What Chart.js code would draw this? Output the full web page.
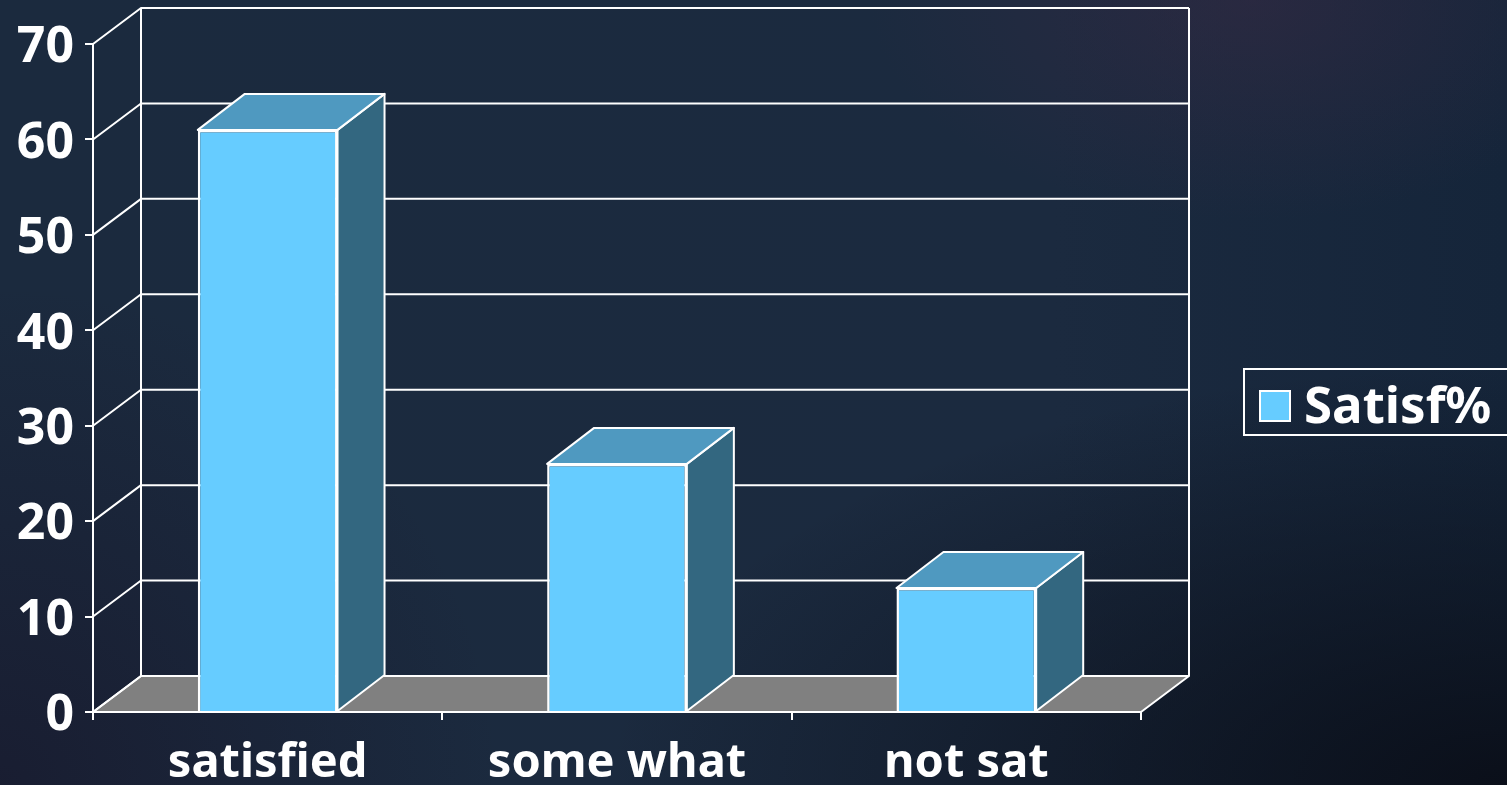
<!DOCTYPE html>
<html>
<head>
<meta charset="utf-8">
<title>Satisfaction</title>
<script src="https://cdn.jsdelivr.net/npm/chart.js@4"></script>
<style>
    html, body { margin: 0; width: 100%; height: 100%; overflow: hidden; }
    body {
        background:
            radial-gradient(ellipse 380px 220px at 1250px 0px, rgba(58,42,68,0.5), rgba(58,42,68,0)),
            radial-gradient(ellipse 900px 420px at 1507px 785px, rgba(10,14,24,0.95), rgba(10,14,24,0)),
            radial-gradient(ellipse 500px 500px at 0px 785px, rgba(24,24,44,0.7), rgba(24,24,44,0)),
            linear-gradient(90deg, #1b2a3e 0%, #1b2a3f 70%, #15253a 100%);
    }
    #wrap { position: absolute; left: 0; top: 0; width: 1507px; height: 785px; }
</style>
</head>
<body>
<div id="wrap"><canvas id="satisfChart" width="1507" height="785"></canvas></div>
<script>
const categories = ["satisfied", "some what", "not sat"];
const satisfValues = [61, 26, 13];
const seriesName = "Satisf%";
const yMax = 70;
const yStep = 10;

const FAMILY = "Noto Sans";
const WHITE = "#ffffff";
// 3d offset of the back wall, bars are a bit shallower
const DX = 48;
const BAR_DX = 47;
const DY = -36;

function poly(ctx, pts, fill) {
    ctx.beginPath();
    ctx.moveTo(pts[0][0], pts[0][1]);
    for (let i = 1; i < pts.length; i++) ctx.lineTo(pts[i][0], pts[i][1]);
    ctx.closePath();
    if (fill) {
        ctx.fillStyle = fill;
        ctx.fill();
    }
    ctx.stroke();
}

// floor, back wall, gridlines and the sides of the bars
const box3d = {
    id: "box3d",
    beforeDatasetsDraw(chart) {
        const ctx = chart.ctx;
        const a = chart.chartArea;
        const y = chart.scales.y;
        ctx.save();
        ctx.strokeStyle = WHITE;
        ctx.lineWidth = 2;
        ctx.lineJoin = "round";

        poly(ctx, [[a.left, a.bottom], [a.left + DX, a.bottom + DY], [a.right + DX, a.bottom + DY], [a.right, a.bottom]], "#808080");

        y.ticks.forEach((t) => {
            const py = y.getPixelForValue(t.value);
            ctx.beginPath();
            ctx.moveTo(a.left, py);
            ctx.lineTo(a.left + DX, py + DY);
            ctx.lineTo(a.right + DX, py + DY);
            ctx.stroke();
        });
        ctx.beginPath();
        ctx.moveTo(a.left + DX, a.top + DY);
        ctx.lineTo(a.left + DX, a.bottom + DY);
        ctx.moveTo(a.right + DX, a.top + DY);
        ctx.lineTo(a.right + DX, a.bottom + DY);
        ctx.stroke();

        chart.getDatasetMeta(0).data.forEach((bar) => {
            const p = bar.getProps(["x", "y", "base", "width"], true);
            const l = p.x - p.width / 2;
            const r = p.x + p.width / 2;
            poly(ctx, [[r, p.y], [r + BAR_DX, p.y + DY], [r + BAR_DX, p.base + DY], [r, p.base]], "#336780");
            poly(ctx, [[l, p.y], [l + BAR_DX, p.y + DY], [r + BAR_DX, p.y + DY], [r, p.y]], "#4f99c0");
        });
        ctx.restore();
    },
    afterDraw(chart) {
        const ctx = chart.ctx;
        ctx.save();
        ctx.strokeStyle = WHITE;
        ctx.lineWidth = 2;
        ctx.strokeRect(1244, 369, 270, 66);
        ctx.fillStyle = "#66ccff";
        ctx.fillRect(1260, 391, 30, 30);
        ctx.strokeRect(1260, 391, 30, 30);
        ctx.fillStyle = WHITE;
        ctx.font = "bold 51px '" + FAMILY + "'";
        ctx.textBaseline = "alphabetic";
        ctx.textAlign = "left";
        ctx.fillText(chart.data.datasets[0].label, 1304, 423);
        ctx.restore();
    }
};

const ctx = document.getElementById("satisfChart");
new Chart(ctx, {
    type: "bar",
    plugins: [box3d],
    data: {
        labels: categories,
        datasets: [{
            label: seriesName,
            data: satisfValues,
            backgroundColor: "#66ccff",
            borderColor: WHITE,
            borderWidth: 2.5,
            barPercentage: 0.4,
            categoryPercentage: 1
        }]
    },
    options: {
        responsive: false,
        animation: false,
        layout: { padding: { top: 44, right: 366, left: 0, bottom: 0 } },
        plugins: {
            legend: { display: false },
            tooltip: { enabled: false }
        },
        scales: {
            x: {
                afterFit: (s) => { s.height = 73; },
                border: { color: WHITE, width: 2 },
                grid: { drawOnChartArea: false, color: WHITE, lineWidth: 2, tickLength: 8 },
                ticks: {
                    color: WHITE,
                    font: { family: FAMILY, size: 47, weight: "bold" },
                    maxRotation: 0,
                    autoSkip: false,
                    padding: 15
                }
            },
            y: {
                min: 0,
                max: yMax,
                afterFit: (s) => { s.width = 93; },
                border: { color: WHITE, width: 2 },
                grid: { drawOnChartArea: false, color: WHITE, lineWidth: 2, tickLength: 8 },
                ticks: {
                    stepSize: yStep,
                    color: WHITE,
                    font: { family: FAMILY, size: 50, weight: "bold" },
                    padding: 11,
                    labelOffset: 4
                }
            }
        }
    }
});
</script>
</body>
</html>
